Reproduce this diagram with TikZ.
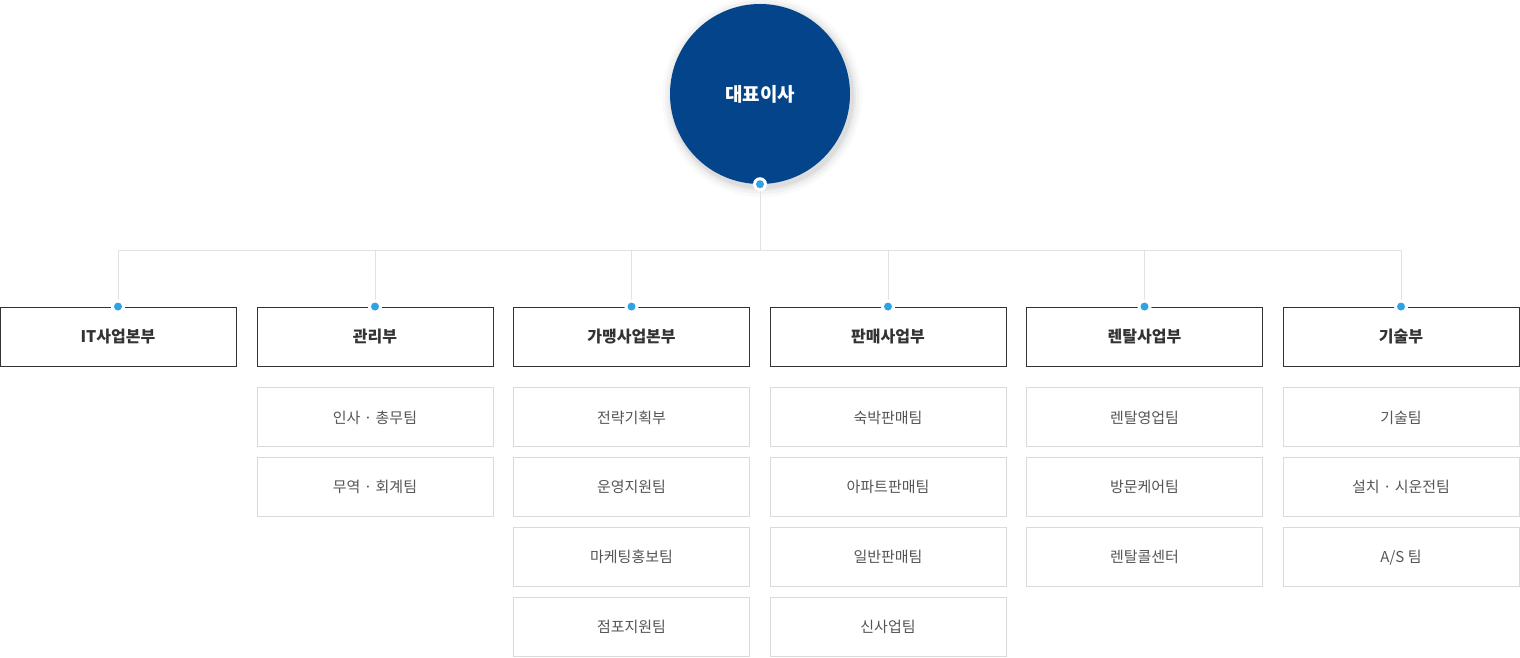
\documentclass[tikz,border=0pt]{standalone}
\usepackage{fontspec}
\setmainfont{Noto Sans CJK KR}
\usetikzlibrary{positioning}

\definecolor{ceoblue}{HTML}{03448A}
\definecolor{dotblue}{HTML}{2FA3E3}
\definecolor{linegray}{HTML}{E2E2E2}
\definecolor{boxgray}{HTML}{DADADA}
\definecolor{deptline}{HTML}{333333}
\definecolor{subtext}{HTML}{555555}

\tikzset{
  ceo/.style={circle,fill=ceoblue,minimum size=180pt,inner sep=0pt,text=white,font=\fontsize{19pt}{21pt}\selectfont\bfseries},
  dept/.style={draw=deptline,line width=0.9pt,minimum width=236pt,minimum height=59pt,inner sep=0pt,text=deptline,font=\fontsize{16pt}{18pt}\selectfont\bfseries},
  team/.style={draw=boxgray,line width=0.9pt,minimum width=236pt,minimum height=59pt,inner sep=0pt,text=subtext,font=\fontsize{15pt}{17pt}\selectfont},
  conn/.style={draw=linegray,line width=1pt},
  dotring/.style={fill=white},
  dot/.style={fill=dotblue}
}

\begin{document}
\begin{tikzpicture}[x=1pt,y=-1pt,node distance=10pt]
  \useasboundingbox (0,0) rectangle (1520,657);

  % shadow of the circle
  \foreach \r/\o in {100/0.02,97/0.03,94/0.04,92/0.05}
    \fill[black,opacity=\o] (762,97) circle (\r);

  \node[ceo] (ceo) at (760,94) {대표이사};
  \coordinate (bus) at (760,250);

  % departments
  \node[dept] (it) at (118,336.5) {IT사업본부};
  \node[dept] (admin) at (375,336.5) {관리부};
  \node[dept] (franchise) at (631.5,336.5) {가맹사업본부};
  \node[dept] (sales) at (888,336.5) {판매사업부};
  \node[dept] (rental) at (1144.5,336.5) {렌탈사업부};
  \node[dept] (tech) at (1401,336.5) {기술부};

  % teams
  \node[team,below=21pt of admin] (admin1) {인사 · 총무팀};
  \node[team,below=of admin1] (admin2) {무역 · 회계팀};

  \node[team,below=21pt of franchise] (franchise1) {전략기획부};
  \node[team,below=of franchise1] (franchise2) {운영지원팀};
  \node[team,below=of franchise2] (franchise3) {마케팅홍보팀};
  \node[team,below=of franchise3] (franchise4) {점포지원팀};

  \node[team,below=21pt of sales] (sales1) {숙박판매팀};
  \node[team,below=of sales1] (sales2) {아파트판매팀};
  \node[team,below=of sales2] (sales3) {일반판매팀};
  \node[team,below=of sales3] (sales4) {신사업팀};

  \node[team,below=21pt of rental] (rental1) {렌탈영업팀};
  \node[team,below=of rental1] (rental2) {방문케어팀};
  \node[team,below=of rental2] (rental3) {렌탈콜센터};

  \node[team,below=21pt of tech] (tech1) {기술팀};
  \node[team,below=of tech1] (tech2) {설치 · 시운전팀};
  \node[team,below=of tech2] (tech3) {A/S 팀};

  % connectors
  \draw[conn] (ceo.south) -- (bus);
  \foreach \d in {it,admin,franchise,sales,rental,tech}
    \draw[conn] (bus) -| (\d.north);

  % dots
  \foreach \d in {ceo.south,it.north,admin.north,franchise.north,sales.north,rental.north,tech.north} {
    \fill[dotring] (\d) circle (7);
    \fill[dot] (\d) circle (4);
  }
\end{tikzpicture}
\end{document}
